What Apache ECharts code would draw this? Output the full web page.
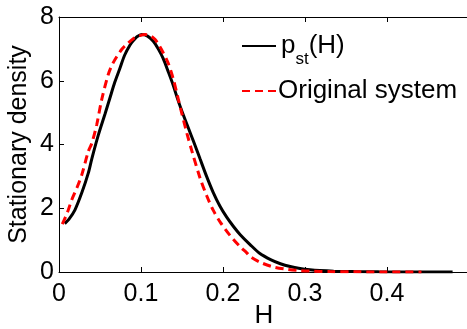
<!DOCTYPE html>
<html>
<head>
<meta charset="utf-8">
<script src="https://cdn.jsdelivr.net/npm/echarts@6/dist/echarts.min.js"></script>
<style>
html,body{margin:0;padding:0;background:#fff;}
#c{width:467px;height:329px;}
</style>
</head>
<body>
<div id="c"></div>
<script>
// Data
var hPst = [0.007,0.012,0.0195,0.028,0.0357,0.040,0.048,0.056,0.062,0.068,0.0744,0.080,0.0866,0.0906,0.095,0.1008,0.108,0.115,0.121,0.127,0.133,0.139,0.145,0.152,0.158,0.164,0.172,0.18,0.188,0.196,0.2045,0.213,0.221,0.233,0.245,0.258,0.27,0.282,0.294,0.306,0.318,0.335,0.36,0.39,0.43,0.48];
var pPst = [1.52,1.65,1.95,2.5,3.1,3.55,4.3,4.95,5.45,5.95,6.4,6.8,7.12,7.26,7.38,7.45,7.4,7.24,7.0,6.7,6.3,5.88,5.4,4.9,4.5,4.1,3.55,3.0,2.5,2.08,1.72,1.42,1.17,0.86,0.58,0.39,0.26,0.17,0.11,0.07,0.045,0.025,0.012,0.005,0.002,0.001];
var hOrig = [0.004,0.01,0.0155,0.022,0.0277,0.0357,0.04,0.046,0.052,0.060,0.066,0.0764,0.0826,0.0906,0.097,0.105,0.111,0.117,0.121,0.125,0.133,0.139,0.1455,0.1496,0.156,0.162,0.172,0.18,0.188,0.197,0.2085,0.2207,0.229,0.233,0.245,0.261,0.278,0.294,0.31,0.33,0.36,0.4,0.442];
var pOrig = [1.5,1.85,2.26,2.65,3.04,3.78,4.04,4.62,5.4,6.19,6.56,6.98,7.14,7.32,7.4,7.45,7.42,7.3,7.15,6.98,6.56,6.09,5.42,4.99,4.35,3.8,2.95,2.4,1.94,1.55,1.15,0.8,0.6,0.49,0.31,0.16,0.085,0.045,0.025,0.012,0.005,0.002,0.001];
var xTicks = [0,0.1,0.2,0.3,0.4];
var yTicks = [0,2,4,6,8];
var seriesNames = ['pst','Original system'];
var xName = 'H';
var yName = 'Stationary density';

function pairs(xs, ys){ return xs.map(function(x,i){ return [x, ys[i]]; }); }

var FONT = 'Liberation Sans, Arial, sans-serif';
var chart = echarts.init(document.getElementById('c'), null, {renderer:'canvas'});
var tickLabel = {fontSize:25, color:'#000', fontFamily:FONT};
chart.setOption({
  animation:false,
  backgroundColor:'#fff',
  grid:{left:59, top:17, width:410, height:255, containLabel:false, outerBoundsMode:'none'},
  legend:[
    {data:[seriesNames[0]], left:236, top:28, orient:'vertical', itemWidth:34, itemHeight:12, itemGap:0,
     itemStyle:{opacity:0},
     textStyle:{fontSize:26, color:'#000', fontFamily:FONT, padding:[0,0,0,0],
       rich:{n:{fontSize:26, fontFamily:FONT, color:'#000'}, s:{fontSize:17, fontFamily:FONT, color:'#000', padding:[26,0,0,0]}}},
     formatter:function(){ return '{n|p}{s|st}{n|(H)}'; }},
    {data:[seriesNames[1]], left:236, top:73, orient:'vertical', itemWidth:34, itemHeight:12,
     itemStyle:{opacity:0},
     textStyle:{fontSize:26, color:'#000', fontFamily:FONT, padding:[0,0,0,-3]}}
  ],
  xAxis:[
    {type:'value', min:0, max:0.5, interval:0.1, position:'bottom',
     name:xName, nameLocation:'middle', nameGap:31, nameMoveOverlap:false, nameTextStyle:{fontSize:26, color:'#000', fontFamily:FONT},
     axisLine:{lineStyle:{color:'#000', width:1}}, axisTick:{inside:true, length:5, lineStyle:{color:'#000'}},
     axisLabel:Object.assign({margin:10, showMaxLabel:false, formatter:function(v){ return xTicks.indexOf(Math.round(v*10)/10)>=0 ? (v===0?'0':v.toFixed(1)) : ''; }}, tickLabel),
     splitLine:{show:false}},
    {type:'value', min:0, max:0.5, interval:0.1, position:'top',
     axisLine:{show:true, lineStyle:{color:'#000', width:1}}, axisTick:{inside:true, length:5, lineStyle:{color:'#000'}},
     axisLabel:{show:false}, splitLine:{show:false}}
  ],
  yAxis:[
    {type:'value', min:0, max:8, interval:2,
     name:yName, nameLocation:'middle', nameGap:27, nameMoveOverlap:false, nameTextStyle:{fontSize:25, color:'#000', fontFamily:FONT},
     axisLine:{show:true, lineStyle:{color:'#000', width:1}}, axisTick:{show:true, inside:true, length:5, lineStyle:{color:'#000'}},
     axisLabel:Object.assign({margin:5, formatter:function(v){ return yTicks.indexOf(v)>=0 ? String(v) : ''; }}, tickLabel),
     splitLine:{show:false}}
  ],
  series:[
    {name:seriesNames[0], type:'line', data:pairs(hPst,pPst), smooth:0.3, symbol:'none',
     lineStyle:{color:'#000', width:3}, itemStyle:{color:'#000'}, z:2},
    {name:seriesNames[1], type:'line', data:pairs(hOrig,pOrig), smooth:0.3, symbol:'none',
     lineStyle:{color:'#ff0000', width:3, type:[8,5]}, itemStyle:{color:'#ff0000'}, z:3}
  ]
});
</script>
</body>
</html>
